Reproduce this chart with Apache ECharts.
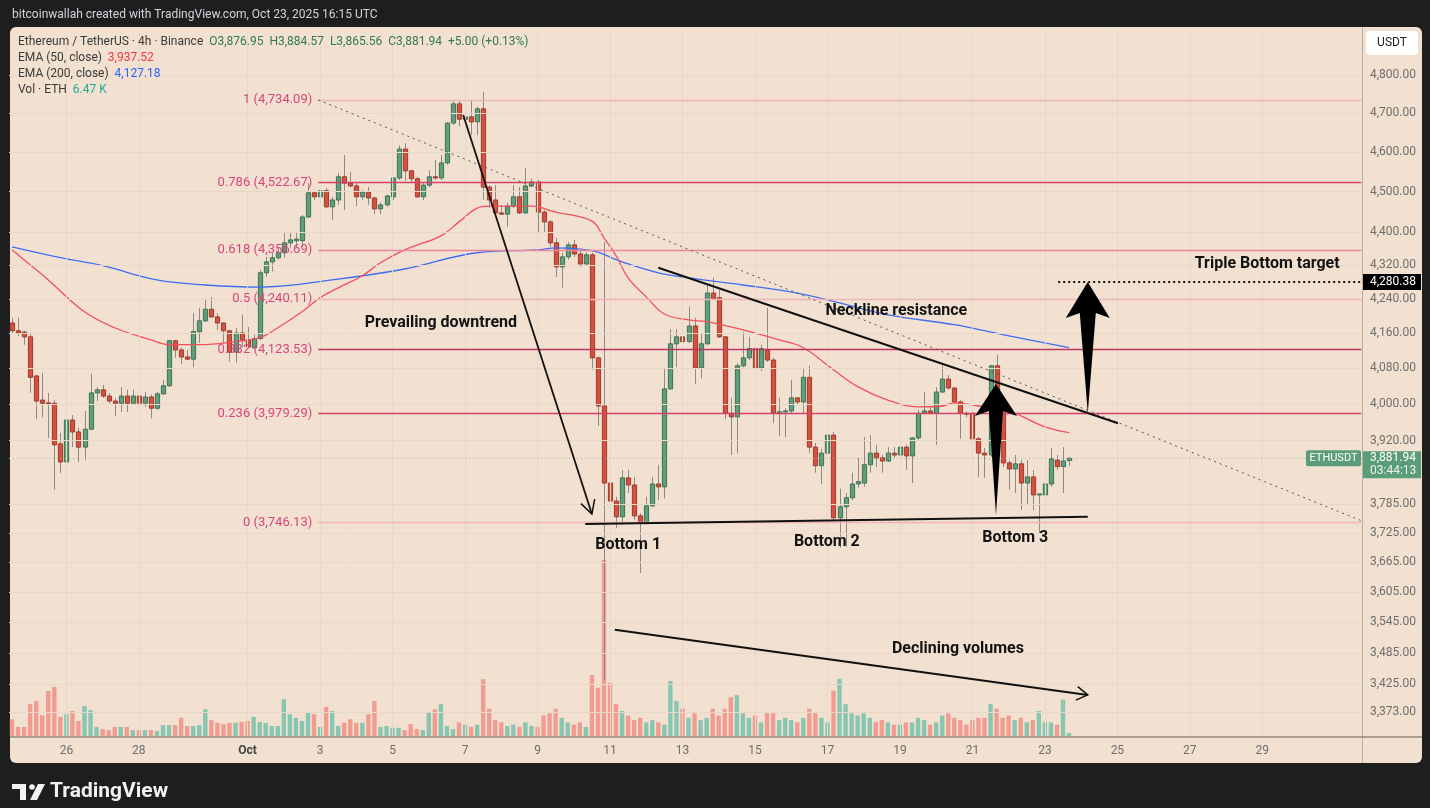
<!DOCTYPE html>
<html><head><meta charset="utf-8">
<script src="https://cdn.jsdelivr.net/npm/echarts@6/dist/echarts.min.js"></script>
<style>html,body{margin:0;padding:0;background:#1e1e1e;}#c{width:1430px;height:808px;}</style>
</head><body><div id="c"></div>
<script>
// ---------------- DATA ----------------
const firstBarTime = '2025-09-24T12:00:00Z';   // 4h bars
const open = [4184,4166,4163,4152,4063,4009,4003,4002,3913,3874,
3965,3939,3906,3945,4025,4032,4018,4007,4002,4018,
4002,4018,4002,4016,3991,4023,4041,4143,4122,4106,
4101,4164,4189,4216,4198,4184,4166,4117,4161,4145,
4127,4148,4302,4328,4338,4350,4374,4379,4379,4437,
4497,4487,4502,4462,4479,4537,4521,4514,4487,4499,
4484,4457,4467,4487,4534,4607,4552,4532,4487,4516,
4537,4534,4572,4674,4724,4684,4690,4677,4711,4511,
4479,4447,4444,4464,4487,4447,4514,4524,4449,4425,
4374,4316,4340,4369,4347,4323,4345,4104,3996,3829,
3791,3758,3840,3825,3760,3745,3781,3827,3821,4034,
4136,4152,4141,4177,4081,4136,4254,4243,4152,3980,
3972,4086,4104,4125,4081,4122,4099,3980,3983,3985,
4014,4005,4060,3906,3866,3893,3932,3756,3779,3798,
3827,3829,3868,3893,3883,3876,3893,3889,3906,3887,
3926,3980,3985,3980,4027,4056,4036,4005,3980,3980,
3924,3893,3889,4086,3994,3872,3859,3870,3829,3842,
3804,3804,3827,3878,3864,3876.95];
const high = [4196,4196,4166,4161,4065,4070,4025,4009,3937,3972,
3976,3948,3985,4068,4038,4043,4025,4014,4038,4032,
4032,4032,4027,4021,4027,4054,4145,4145,4127,4122,
4207,4219,4238,4245,4207,4186,4168,4173,4203,4175,
4157,4309,4340,4350,4364,4400,4398,4400,4442,4521,
4499,4564,4509,4487,4547,4592,4549,4521,4504,4511,
4487,4474,4492,4534,4617,4622,4554,4537,4521,4554,
4579,4592,4677,4734,4734,4703,4734,4716,4755,4516,
4516,4467,4472,4516,4511,4559,4532,4529,4454,4430,
4386,4350,4376,4381,4357,4350,4350,4106,4376,3878,
3800,3857,3857,3842,3766,3800,3842,3868,4081,4170,
4170,4173,4222,4196,4161,4278,4290,4261,4154,4014,
4092,4163,4152,4145,4134,4219,4104,4014,3991,4054,
4016,4081,4086,3915,3902,3939,3939,3817,3808,3851,
3883,3928,3932,3911,3889,3906,3906,3908,3911,3928,
3987,4027,3994,4038,4086,4065,4038,4009,3983,3983,
3928,3904,4088,4111,4009,3878,3889,3878,3878,3857,
3806,3840,3904,3889,3906,3884.57];
const low = [4160,4154,4134,4025,3967,3971,3926,3815,3850,3868,
3906,3874,3878,3943,4007,4014,4002,3974,3983,3983,
4000,4000,3994,3969,3987,4021,4038,4104,4090,4099,
4083,4138,4186,4196,4168,4138,4095,4093,4129,4127,
4125,4145,4292,4305,4333,4338,4362,4364,4364,4435,
4479,4462,4459,4430,4467,4454,4511,4464,4479,4467,
4444,4444,4462,4479,4529,4527,4524,4484,4479,4511,
4529,4529,4567,4669,4666,4664,4643,4643,4479,4459,
4442,4442,4413,4459,4444,4445,4511,4400,4398,4364,
4292,4266,4333,4340,4316,4321,4077,3952,3433,3727,
3735,3741,3808,3752,3643,3742,3778,3793,3796,4032,
4083,4125,4138,4045,4058,4134,4238,4150,3967,3889,
3893,4083,4099,4061,4074,4095,3958,3930,3928,3980,
3998,3980,3893,3851,3827,3889,3752,3694,3696,3793,
3819,3821,3851,3863,3851,3874,3883,3887,3857,3829,
3922,3978,3978,3911,4025,4032,4002,3924,3971,3922,
3842,3840,3885,3965,3863,3815,3808,3772,3783,3772,
3725,3800,3821,3857,3808,3865.56];
const close = [4166,4161,4152,4060,4007,4002,4001,3911,3874,3965,
3939,3906,3945,4025,4032,4018,4007,4002,4018,4002,
4018,4002,4016,3991,4023,4041,4143,4122,4106,4101,
4164,4189,4216,4198,4184,4166,4117,4161,4145,4129,
4148,4302,4328,4338,4350,4374,4381,4383,4437,4497,
4487,4502,4462,4479,4537,4521,4514,4487,4499,4484,
4457,4467,4489,4534,4607,4552,4532,4487,4516,4537,
4534,4572,4674,4724,4684,4690,4677,4711,4511,4479,
4447,4444,4464,4487,4447,4514,4524,4449,4425,4374,
4316,4340,4369,4347,4323,4345,4104,3996,3829,3791,
3758,3840,3825,3760,3745,3781,3827,3821,4034,4136,
4152,4141,4177,4081,4136,4254,4240,4152,3980,3972,
4086,4104,4125,4081,4125,4099,3980,3983,3985,4014,
4005,4060,3906,3866,3893,3932,3756,3779,3798,3827,
3832,3868,3893,3883,3876,3893,3889,3906,3887,3926,
3980,3985,3980,4027,4056,4036,4005,3980,3978,3924,
3893,3889,4086,3987,3872,3859,3870,3829,3842,3804,
3806,3827,3881,3864,3876,3881.94];
// volume, thousand ETH
const volume = [37,20,20,70,77,46,99,108,42,48,
55,33,66,57,20,15,13,20,20,20,
13,13,13,13,11,24,24,24,40,22,
22,24,59,35,29,26,29,29,31,33,
42,31,29,22,22,81,48,40,33,51,
48,20,64,55,22,29,37,29,29,48,
77,20,22,18,18,13,26,15,13,53,
59,70,22,15,30,25,20,25,125,60,
35,30,22,25,20,30,22,20,45,50,
60,40,30,25,30,20,134,106,387,117,
70,55,45,35,40,30,35,30,25,121,
77,60,40,50,35,40,60,45,60,85,
90,50,40,45,30,50,50,35,40,35,
30,40,60,50,40,30,100,126,70,50,
45,50,40,30,35,30,25,25,30,30,
40,35,25,30,45,50,40,35,25,35,
40,40,70,60,40,45,35,40,30,35,
55,30,30,25,80,6.47];
// EMA readings: [bar index, value]
const ema50 = [[0,4357],[3,4321],[6,4285],[12,4210],[17,4173],[23,4145],[26,4134],[31,4134],[37,4141],[41,4150],[44,4173],[48,4210],[51,4243],[54,4266],[58,4295],[61,4326],[65,4357],[71,4391],[74,4425],[77,4459],[79,4464],[86,4464],[90,4449],[96,4427],[98,4386],[100,4343],[102,4290],[105,4245],[108,4205],[112,4191],[115,4187],[121,4168],[127,4145],[131,4127],[136,4077],[140,4039],[145,4009],[150,3994],[154,3996],[156,4003],[160,3996],[163,3992],[166,3980],[171,3950],[175,3937.52]];
const ema200 = [[0,4364],[8,4338],[15,4319],[24,4285],[32,4273],[41,4268],[53,4285],[65,4311],[77,4350],[87,4357],[90,4362],[96,4355],[101,4328],[107,4302],[112,4290],[121,4273],[130,4254],[137,4231],[145,4203],[156,4180],[164,4157],[175,4127.18]];
const fibRatios = ['1','0.786','0.618','0.5','0.382','0.236','0'];
const fibPrices = [4734.09,4522.67,4356.69,4240.11,4123.53,3979.29,3746.13];
const priceTicks = [4800,4700,4600,4500,4400,4320,4240,4160,4080,4000,3920,3785,3725,3665,3605,3545,3485,3425,3373];
const dateTickDays = ['2025-09-26','2025-09-28','2025-10-01','2025-10-03','2025-10-05','2025-10-07','2025-10-09','2025-10-11','2025-10-13','2025-10-15','2025-10-17','2025-10-19','2025-10-21','2025-10-23','2025-10-25','2025-10-27','2025-10-29'];
const dateTickLabels = ['26','28','Oct','3','5','7','9','11','13','15','17','19','21','23','25','27','29'];
const lastPrice = 3881.94, targetPrice = 4280.38;
// drawings (bar index, price)
const trendDotted = [[50.7,4734.09],[223.4,3750]];
const neckline = [[107.0,4314],[183.1,3958]];
const supportLine = [[94.9,3743],[178.1,3758]];
const downArrow = [[74.7,4695],[96.0,3764]];
const volArrow = [[99.8,3530],[178.1,3405]];
const targetLine = [[173.2,targetPrice],[223.4,targetPrice]];
const bigArrows = [{base:[178.1,3980],tip:[178.1,targetPrice],head:36,half:22,shaft:8},
                   {base:[162.9,3762],tip:[162.9,4045],head:32,half:21,shaft:7}];
const notes = [['Prevailing downtrend',71.0,4184],['Neckline resistance',146.4,4212],['Triple Bottom target',207.8,4323],
  ['Bottom 1',102.0,3700],['Bottom 2',134.9,3706],['Bottom 3',166.1,3715],['Declining volumes',156.6,3493]];

// ---------------- CHART ----------------
const FONT = "Roboto, 'Noto Sans', sans-serif";
const BG = '#f2e1d0', GRID = '#e8d8c8';
const N_SLOTS = 224;
const t0 = Date.parse(firstBarTime), H4 = 4*3600*1000;
const tickIdx = dateTickDays.map(d => (Date.parse(d+'T00:00:00Z') - t0)/H4);
const tickLabelOf = {}; tickIdx.forEach((v,k)=>tickLabelOf[v]=dateTickLabels[k]);
const fmt2 = v => v.toLocaleString('en-US',{minimumFractionDigits:2,maximumFractionDigits:2});
const Y_MIN = 3328.4, Y_MAX = 4926.7;

const chart = echarts.init(document.getElementById('c'), null, {width:1430, height:808});

const candleData = open.map((o,i)=>[i,o,close[i],low[i],high[i]]);
const volData = volume.map((v,i)=>({value:[i,v], itemStyle:{color: close[i]>=open[i] ? '#88c6b1' : '#f09c90'}}));

const gridLines = priceTicks.map(v=>({yAxis:v, lineStyle:{color:GRID,width:1,type:'solid'},
  label:{show:true,position:'end',distance:8,formatter:fmt2(v),color:'#6e6e6e',fontSize:12,fontFamily:FONT}}))
 .concat(tickIdx.map(v=>({xAxis:v, lineStyle:{color:GRID,width:1,type:'solid'}, label:{show:false}})))
 .concat([{yAxis:lastPrice, lineStyle:{color:'#9fb3a3',width:1,type:[1,3]}, label:{show:false}}]);

const fibColors = ['#f1b4b9','#d6416a','#e9899c','#f1b4b9','#bd3761','#d6416a','#f1b4b9'];
const pair = (a,b,style,label)=>[{coord:a, lineStyle:style, label: label||{show:false}},{coord:b}];
const drawLines = fibPrices.map((p,k)=>pair([50.7,p],[223.4,p],{color:fibColors[k],width:1.3,type:'solid'},
   {show:true,position:'start',distance:6,formatter:fibRatios[k]+' ('+fmt2(p)+')',color:'#d8457a',fontSize:13,fontFamily:FONT}))
 .concat([
   pair(trendDotted[0],trendDotted[1],{color:'#555',width:1,type:[2,4]}),
   pair(neckline[0],neckline[1],{color:'#111',width:2,type:'solid'}),
   pair(supportLine[0],supportLine[1],{color:'#111',width:2,type:'solid'}),
   pair(targetLine[0],targetLine[1],{color:'#111',width:2,type:[2,3]})
 ]);

const option = {
  animation:false,
  backgroundColor:'#1e1e1e',
  grid:[{left:9,top:28,width:1353,height:708},{left:9,top:436,width:1353,height:300}],
  xAxis:[
    {type:'value',gridIndex:0,min:-0.5,max:N_SLOTS-0.5,axisLine:{show:false},axisTick:{show:false},splitLine:{show:false},
     axisLabel:{customValues:tickIdx,formatter:v=>{const l=tickLabelOf[v]||''; return l==='Oct'?'{m|Oct}':l;},
       color:'#6e6e6e',fontSize:12,fontFamily:FONT,margin:9,rich:{m:{fontWeight:'bold',color:'#444',fontSize:12,fontFamily:FONT}}}},
    {type:'value',gridIndex:1,min:-0.5,max:N_SLOTS-0.5,show:false}
  ],
  yAxis:[
    {type:'log',gridIndex:0,min:Y_MIN,max:Y_MAX,position:'right',axisLine:{show:false},axisTick:{show:false},axisLabel:{show:false},splitLine:{show:false}},
    {type:'value',gridIndex:1,min:0,max:660,show:false}
  ],
  series:[
    {type:'bar',xAxisIndex:1,yAxisIndex:1,data:volData,barWidth:4.4,z:1,silent:true},
    {type:'line',xAxisIndex:0,yAxisIndex:0,data:[[0,4000]],symbol:'none',lineStyle:{opacity:0},z:1,silent:true,
     markLine:{silent:true,symbol:['none','none'],animation:false,data:gridLines}},
    {type:'custom',xAxisIndex:0,yAxisIndex:0,data:candleData,z:3,silent:true,encode:{x:0,y:[1,2,3,4]},
     renderItem:(params,api)=>{
       const i=api.value(0),o=api.value(1),c=api.value(2),l=api.value(3),h=api.value(4);
       const pO=api.coord([i,o]),pC=api.coord([i,c]),pL=api.coord([i,l]),pH=api.coord([i,h]);
       const bw=api.size([1,0])[0]*0.7, up=c>=o, x=Math.round(pO[0])+0.5;
       const top=Math.min(pO[1],pC[1]), bot=Math.max(pO[1],pC[1]);
       return {type:'group',children:[
         {type:'line',shape:{x1:x,y1:pH[1],x2:x,y2:pL[1]},style:{stroke:'#8e8a86',lineWidth:1}},
         {type:'rect',shape:{x:x-bw/2,y:top,width:bw,height:Math.max(1,bot-top)},
          style:{fill:up?'#5f9e7b':'#d5513f',stroke:up?'#3e7157':'#9b3a2e',lineWidth:1}}
       ]};
     }},
    {type:'line',xAxisIndex:0,yAxisIndex:0,data:ema200,symbol:'none',smooth:0.4,lineStyle:{color:'#3f6ef3',width:1.3},z:4,silent:true},
    {type:'line',xAxisIndex:0,yAxisIndex:0,data:ema50,symbol:'none',smooth:0.4,lineStyle:{color:'#f2505c',width:1.3},z:4,silent:true},
    {type:'line',xAxisIndex:0,yAxisIndex:0,data:[[0,4000]],symbol:'none',lineStyle:{opacity:0},z:5,silent:true,
     markLine:{silent:true,symbol:['none','none'],animation:false,data:drawLines}}
  ]
};
chart.setOption(option);

// ---------------- DRAWINGS / CHROME ----------------
const px = d => chart.convertToPixel({gridIndex:0}, d);
const G = [];
const txt = (x,y,text,font,fill,align)=>({type:'text',x,y,silent:true,z:100,
  style:{text,font,fill,align:align||'left',verticalAlign:'middle',textAlign:align||'left',textVerticalAlign:'middle'}});
const richTxt = (x,y,text,rich)=>({type:'text',x,y,silent:true,z:100,
  style:{text,rich,font:'12px '+FONT,align:'left',verticalAlign:'middle',textAlign:'left',textVerticalAlign:'middle'}});
// panel background
G.push({type:'rect',shape:{x:10,y:27,width:1412,height:736,r:6},style:{fill:BG},z:-100,silent:true});
// separators
G.push({type:'line',shape:{x1:1362.5,y1:27,x2:1362.5,y2:763},style:{stroke:'#b9ada1',lineWidth:1},z:50,silent:true});
G.push({type:'line',shape:{x1:10,y1:737,x2:1422,y2:737},style:{stroke:'#8f8780',lineWidth:1.5},z:50,silent:true});
// top caption
G.push(txt(12,15,'bitcoinwallah created with TradingView.com, Oct 23, 2025 16:15 UTC','12px '+FONT,'#d1d4dc'));
// legend
const lg = c => ({fill:c, fontSize:12, fontFamily:FONT});
const legendRich = {t:lg('#3a3a3a'), g:lg('#2f7a53'), r:lg('#f23645'), b:lg('#2962ff'), v:lg('#22ab94')};
G.push(richTxt(18,42,'{t|Ethereum / TetherUS · 4h · Binance}{g|  O3,876.95  H3,884.57  L3,865.56  C3,881.94  +5.00 (+0.13%)}',legendRich));
G.push(richTxt(18,58,'{t|EMA (50, close)}{r|  3,937.52}',legendRich));
G.push(richTxt(18,74,'{t|EMA (200, close)}{b|  4,127.18}',legendRich));
G.push(richTxt(18,90,'{t|Vol · ETH}{v|  6.47 K}',legendRich));
// USDT box
G.push({type:'rect',shape:{x:1366,y:31,width:52,height:24,r:4},style:{fill:'#ffffff'},z:60,silent:true});
G.push(txt(1392,43,'USDT','12px '+FONT,'#222','center'));
// annotations text
notes.forEach(n=>{const p=px([n[1],n[2]]); G.push(txt(p[0],p[1],n[0],'bold 16px '+FONT,'#121212','center'));});
// open arrows
function openArrow(a,b,w,head,spread){
  const A=px(a),B=px(b),ang=Math.atan2(B[1]-A[1],B[0]-A[0]);
  const h1=[B[0]-head*Math.cos(ang-spread),B[1]-head*Math.sin(ang-spread)];
  const h2=[B[0]-head*Math.cos(ang+spread),B[1]-head*Math.sin(ang+spread)];
  G.push({type:'line',shape:{x1:A[0],y1:A[1],x2:B[0],y2:B[1]},style:{stroke:'#111',lineWidth:w},z:90,silent:true});
  G.push({type:'polyline',shape:{points:[h1,B,h2]},style:{stroke:'#111',lineWidth:1.5,fill:null},z:90,silent:true});
}
openArrow(downArrow[0],downArrow[1],1.8,15,0.5);
openArrow(volArrow[0],volArrow[1],2,13,0.55);
// filled arrows
bigArrows.forEach(a=>{
  const B=px(a.base),T=px(a.tip);
  G.push({type:'polygon',shape:{points:[[T[0],T[1]],[T[0]+a.half,T[1]+a.head],[T[0]+a.shaft,T[1]+a.head-5],[B[0],B[1]],[T[0]-a.shaft,T[1]+a.head-5],[T[0]-a.half,T[1]+a.head]]},
    style:{fill:'#000'},z:95,silent:true});
});
// price boxes
const yl = px([0,lastPrice])[1], yt = px([0,targetPrice])[1];
G.push({type:'rect',shape:{x:1306,y:yl-8,width:55,height:16,r:2},style:{fill:'#5b9d79'},z:70,silent:true});
G.push(txt(1333.5,yl,'ETHUSDT','11px '+FONT,'#ffffff','center'));
G.push({type:'rect',shape:{x:1363,y:yl-7,width:58,height:27},style:{fill:'#5b9d79'},z:70,silent:true});
G.push(txt(1370,yl,fmt2(lastPrice),'12px '+FONT,'#ffffff'));
G.push(txt(1370,yl+13,'03:44:13','12px '+FONT,'#e8f3ec'));
G.push({type:'rect',shape:{x:1363,y:yt-8,width:58,height:16},style:{fill:'#000'},z:70,silent:true});
G.push(txt(1370,yt,fmt2(targetPrice),'12px '+FONT,'#ffffff'));
// bottom logo
G.push({type:'rect',shape:{x:12,y:784,width:14,height:5},style:{fill:'#f2f2f2'},z:60,silent:true});
G.push({type:'rect',shape:{x:20,y:784,width:6,height:16},style:{fill:'#f2f2f2'},z:60,silent:true});
G.push({type:'circle',shape:{cx:32,cy:787,r:2.8},style:{fill:'#f2f2f2'},z:60,silent:true});
G.push({type:'polygon',shape:{points:[[38,784],[45,784],[37,800],[30,800]]},style:{fill:'#f2f2f2'},z:60,silent:true});
G.push(txt(50,792,'TradingView','bold 21px '+FONT,'#f2f2f2'));
chart.setOption({graphic:G});
</script></body></html>
